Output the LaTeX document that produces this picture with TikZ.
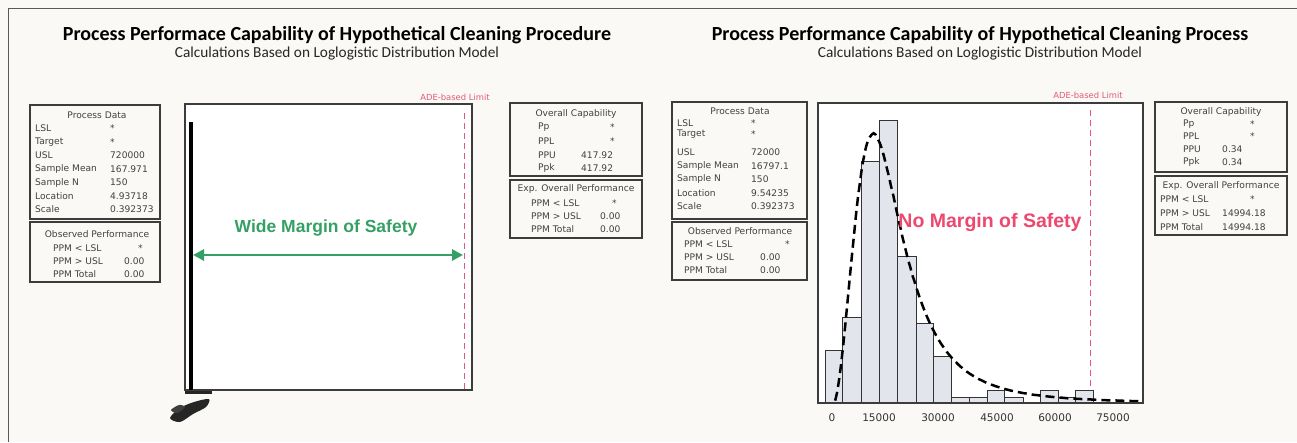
\documentclass[tikz,border=0pt]{standalone}
\usepackage{fontspec}
\setmainfont{Carlito}
\newfontfamily\boxfont{DejaVu Sans}
\newfontfamily\arialfont{Liberation Sans}
\usetikzlibrary{arrows.meta}
\definecolor{bg}{RGB}{250,249,245}
\definecolor{framegray}{RGB}{60,60,60}
\definecolor{txtgray}{RGB}{65,65,65}
\definecolor{adered}{RGB}{228,88,120}
\definecolor{safegreen}{RGB}{52,160,100}
\definecolor{nored}{RGB}{236,72,112}
\definecolor{barfill}{RGB}{226,229,236}
\tikzset{
  infobox/.style={draw=framegray, line width=1.4pt},
  boxtxt/.style={font=\boxfont\fontsize{9.1}{10}\selectfont, text=txtgray, inner sep=0pt, anchor=west},
  boxhead/.style={font=\boxfont\fontsize{9.1}{10}\selectfont, text=txtgray, inner sep=0pt},
  titletxt/.style={font=\bfseries\fontsize{20}{23}\selectfont, text=black, inner sep=0pt},
  subtxt/.style={font=\fontsize{15.3}{17}\selectfont, text=black!85, inner sep=0pt},
  adetxt/.style={font=\boxfont\fontsize{8.4}{10}\selectfont, text=adered, inner sep=0pt},
  plotframe/.style={draw=framegray, line width=1.2pt, fill=white},
  limitline/.style={draw=adered, line width=1pt, dash pattern=on 6pt off 4pt},
  histbar/.style={draw=black!80, line width=0.9pt, fill=barfill},
  ticklab/.style={font=\boxfont\fontsize{10.5}{12}\selectfont, text=black!80, inner sep=0pt},
  declare function={llz(\t)=(ln(\t)-2.63457)/0.392373; llf(\t)=exp(llz(\t)-ln(\t)-2*ln(1+exp(llz(\t))));}
}
\begin{document}
\begin{tikzpicture}[x=1pt,y=-1pt]
\useasboundingbox (0,0) rectangle (1297,442);
\fill[bg] (0,0) rectangle (1297,442);
% outer frame lines
\coordinate (fTL) at (8,8);
\coordinate (fTR) at (1297,8);
\coordinate (fBL) at (8,442);
\draw[gray!70!black, line width=1pt] (fBL) -- (fTL) -- (fTR);

%%%%%%%%%%%%%%%% LEFT PANEL %%%%%%%%%%%%%%%%
\node[titletxt] (ltitle) at (337,35) {Process Performace Capability of Hypothetical Cleaning Procedure};
\node[subtxt] (lsub) at (337,54) {Calculations Based on Loglogistic Distribution Model};

% Process data box
\draw[infobox] (30,105) rectangle (160,219);
\node[boxhead] (lpdh) at (97,115) {Process Data};
\foreach \lab/\val [count=\i] in {LSL/*, Target/*, USL/720000, Sample Mean/167.971, Sample N/150, Location/4.93718, Scale/0.392373} {
  \node[boxtxt] (lpdl\i) at (35,115+\i*13.5) {\lab};
  \node[boxtxt] (lpdv\i) at (110,115+\i*13.5) {\val};
}
% Observed performance box
\draw[infobox] (30,222) rectangle (160,282);
\node[boxhead] (lobh) at (97,234) {Observed Performance};
\foreach \lab/\val/\vx/\yy [count=\i] in {PPM < LSL/*/138/248, PPM > USL/0.00/124/261, PPM Total/0.00/124/274} {
  \node[boxtxt] (lobl\i) at (53,\yy) {\lab};
  \node[boxtxt] (lobv\i) at (\vx,\yy) {\val};
}

% plot
\draw[plotframe] (185,104) rectangle (472,390);
\coordinate (llimT) at (464,113);
\coordinate (llimB) at (464,390);
\draw[limitline] (llimT) -- (llimB);
\node[adetxt] (lade) at (455,97) {ADE-based Limit};
\fill[black] (188.5,122) rectangle (192.5,390);
\fill[black!85] (185,391) rectangle (212,394);
\fill[black!85] plot[smooth cycle] coordinates {(170,418) (180,408) (194,402) (209,399) (206,407) (193,414) (180,422)};
\fill[black!75] plot[smooth cycle] coordinates {(171,410) (179,405) (185,407) (177,413)};

\coordinate (garL) at (193,255);
\coordinate (garR) at (463,255);
\draw[safegreen, line width=2.8pt, {Triangle[length=11pt,width=11pt]}-{Triangle[length=11pt,width=11pt]}] (garL) -- (garR);
\node[font=\arialfont\bfseries\fontsize{17.5}{20}\selectfont, text=safegreen, inner sep=0pt] (wide) at (326,228) {Wide Margin of Safety};

% Overall capability box
\draw[infobox] (510,103) rectangle (642,176);
\node[boxhead] (locH) at (576,114) {Overall Capability};
\foreach \lab/\val/\vx/\yy [count=\i] in {Pp/*/610/127, PPL/*/610/141, PPU/417.92/581/155, Ppk/417.92/581/168} {
  \node[boxtxt] (locl\i) at (538,\yy) {\lab};
  \node[boxtxt] (locv\i) at (\vx,\yy) {\val};
}
% Exp overall performance box
\draw[infobox] (510,180) rectangle (642,238);
\node[boxhead] (lexH) at (576,189) {Exp. Overall Performance};
\foreach \lab/\val/\vx/\yy [count=\i] in {PPM < LSL/*/612/203, PPM > USL/0.00/600/216, PPM Total/0.00/600/229} {
  \node[boxtxt] (lexl\i) at (531,\yy) {\lab};
  \node[boxtxt] (lexv\i) at (\vx,\yy) {\val};
}

%%%%%%%%%%%%%%%% RIGHT PANEL %%%%%%%%%%%%%%%%
\node[titletxt] (rtitle) at (980,35) {Process Performance Capability of Hypothetical Cleaning Process};
\node[subtxt] (rsub) at (980,54) {Calculations Based on Loglogistic Distribution Model};

\draw[infobox] (672,102) rectangle (807,219);
\node[boxhead] (rpdh) at (740,111) {Process Data};
\foreach \lab/\val/\yy [count=\i] in {LSL/*/123, Target/*/134, USL/72000/152, Sample Mean/16797.1/166, Sample N/150/179, Location/9.54235/193, Scale/0.392373/206} {
  \node[boxtxt] (rpdl\i) at (677,\yy) {\lab};
  \node[boxtxt] (rpdv\i) at (751,\yy) {\val};
}
\draw[infobox] (672,222) rectangle (807,280);
\node[boxhead] (robh) at (740,231) {Observed Performance};
\foreach \lab/\val/\vx/\yy [count=\i] in {PPM < LSL/*/785/244, PPM > USL/0.00/760/257, PPM Total/0.00/760/270} {
  \node[boxtxt] (robl\i) at (684,\yy) {\lab};
  \node[boxtxt] (robv\i) at (\vx,\yy) {\val};
}

% plot
\draw[plotframe] (818,103) rectangle (1143,403);
\coordinate (rlimT) at (1090,110);
\coordinate (rlimB) at (1090,403);
\draw[limitline] (rlimT) -- (rlimB);
\node[adetxt] (rade) at (1088,95) {ADE-based Limit};
\foreach \xa/\xb/\top in {825/842/350, 842/861/317, 861/879/161, 879/897/120, 897/916/256, 916/933/323, 933/951/356, 951/969/397, 969/987/397, 987/1004/390, 1004/1023/397, 1040/1058/390, 1058/1075/397, 1075/1093/390} {
  \draw[histbar] (\xa,403) rectangle (\xb,\top);
}
\draw[black, line width=2.5pt, dash pattern=on 9pt off 5pt]
  plot[domain=0.3:79, samples=160, smooth, variable=\t]
  ({834+3.887*\t}, {403-12850*llf(\t)});
\draw[framegray, line width=1.2pt] (818,403) -- (1143,403);
\node[font=\arialfont\bfseries\fontsize{19.5}{22}\selectfont, text=nored, inner sep=0pt] (nomargin) at (990,222) {No Margin of Safety};
\foreach \v/\xx in {0/832, 15000/879, 30000/938, 45000/997, 60000/1055, 75000/1113} {
  \node[ticklab] (tick\v) at (\xx,418) {\v};
}

\draw[infobox] (1155,102) rectangle (1287,172);
\node[boxhead] (rocH) at (1221,112) {Overall Capability};
\foreach \lab/\val/\vx/\yy [count=\i] in {Pp/*/1250/124, PPL/*/1250/136, PPU/0.34/1222/149, Ppk/0.34/1222/162} {
  \node[boxtxt] (rocl\i) at (1183,\yy) {\lab};
  \node[boxtxt] (rocv\i) at (\vx,\yy) {\val};
}
\draw[infobox] (1155,176) rectangle (1287,235);
\node[boxhead] (rexH) at (1221,186) {Exp. Overall Performance};
\foreach \lab/\val/\vx/\yy [count=\i] in {PPM < LSL/*/1250/199, PPM > USL/14994.18/1222/213, PPM Total/14994.18/1222/227} {
  \node[boxtxt] (rexl\i) at (1160,\yy) {\lab};
  \node[boxtxt] (rexv\i) at (\vx,\yy) {\val};
}
\end{tikzpicture}
\end{document}
